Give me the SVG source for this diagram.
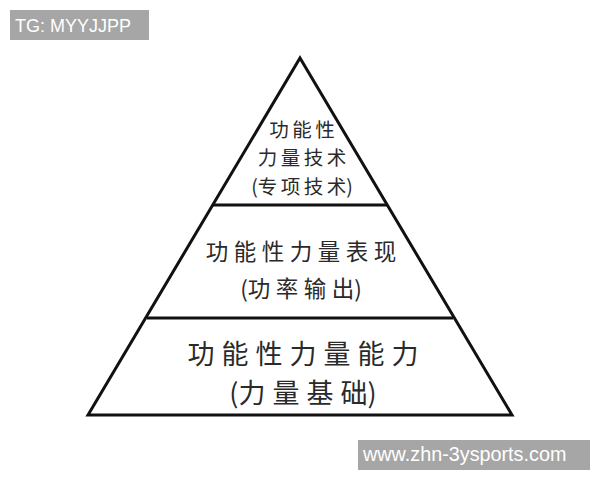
<svg xmlns="http://www.w3.org/2000/svg" width="600" height="480" viewBox="0 0 600 480">
<style>
.lbl{font-family:"Noto Sans CJK SC","Noto Sans",sans-serif;fill:#2a2a2a;text-anchor:middle}
.t{font-size:19.5px}
.m{font-size:22.5px}
.b{font-size:27px}
.t .s{letter-spacing:3.5px}
.m .s{letter-spacing:5.5px}
.b .s{letter-spacing:7px}
.z{letter-spacing:0}
.wm{font-family:"Liberation Sans",Arial,sans-serif;fill:#ffffff}
.ln{stroke:#111;stroke-width:3;fill:none;stroke-linejoin:miter}
</style>
<rect width="600" height="480" fill="#ffffff"/>
<g id="connectors">
<polygon class="ln" points="300,58 512,415 88,415"/>
<line class="ln" x1="213" y1="205" x2="387" y2="205"/>
<line class="ln" x1="147" y1="318" x2="453" y2="318"/>
</g>
<g id="top">
<text class="lbl t" x="302" y="137"><tspan class="s">功能</tspan><tspan class="z">性</tspan></text>
<text class="lbl t" x="302" y="165"><tspan class="s">力量技</tspan><tspan class="z">术</tspan></text>
<text class="lbl t" x="302" y="194"><tspan class="z">(</tspan><tspan class="s">专项技</tspan><tspan class="z">术)</tspan></text>
</g>
<g id="middle">
<text class="lbl m" x="301" y="260"><tspan class="s">功能性力量表</tspan><tspan class="z">现</tspan></text>
<text class="lbl m" x="301" y="297"><tspan class="z">(</tspan><tspan class="s">功率输</tspan><tspan class="z">出)</tspan></text>
</g>
<g id="bottom">
<text class="lbl b" x="303" y="364"><tspan class="s">功能性力量能</tspan><tspan class="z">力</tspan></text>
<text class="lbl b" x="303" y="403"><tspan class="z">(</tspan><tspan class="s">力量基</tspan><tspan class="z">础)</tspan></text>
</g>
<g id="watermark-top">
<rect x="10" y="10" width="139" height="30" fill="#a6a6a6"/>
<text class="wm" font-size="18" x="15" y="32">TG: MYYJJPP</text>
</g>
<g id="watermark-bottom">
<rect x="358" y="440" width="232" height="30" fill="#a6a6a6"/>
<text class="wm" font-size="19.8" x="363" y="461">www.zhn-3ysports.com</text>
</g>
</svg>
